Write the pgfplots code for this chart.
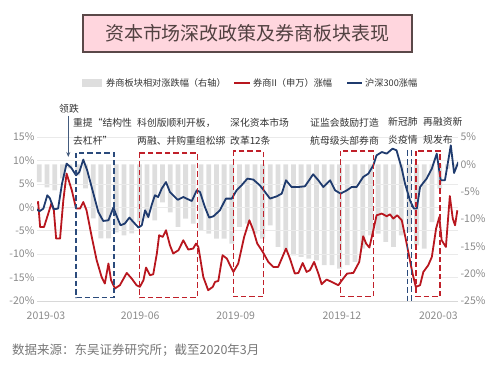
\documentclass[border=0pt]{standalone}
\usepackage{pgfplots}
\pgfplotsset{compat=1.18}
\usepackage{fontspec}
\setmainfont{Noto Sans CJK SC}
\usetikzlibrary{arrows.meta}
\definecolor{myred}{HTML}{B8161E}
\definecolor{myblue}{HTML}{1F3B6E}
\definecolor{bargray}{HTML}{DEDEDE}
\definecolor{tickgray}{HTML}{8A8A8A}
\definecolor{gridgray}{HTML}{EAEAEA}
\definecolor{axisgray}{HTML}{D8D8D8}
\definecolor{boxred}{HTML}{C0202A}
\definecolor{boxblue}{HTML}{2B4B7C}
\definecolor{titlepink}{HTML}{FFD6DE}
\definecolor{titleframe}{HTML}{5A4848}
\definecolor{txt}{HTML}{333333}
\definecolor{srcgray}{HTML}{777777}
\begin{document}
\begin{tikzpicture}[x=1pt,y=1pt]
\path (0,0) rectangle (499,365);
% ---- bars, right axis
\begin{axis}[at={(37pt,64pt)}, anchor=south west, width=421pt, height=164pt, scale only axis,
  xmin=-0.275, xmax=12.6, ymin=-25, ymax=5,
  hide x axis, axis y line*=right, y axis line style={draw=none},
  ytick={-25,-20,-15,-10,-5,0,5}, yticklabels={-25\%,-20\%,-15\%,-10\%,-5\%,0\%,5\%},
  major tick length=0pt,
  yticklabel style={font=\fontsize{10.5}{12}\selectfont, text=tickgray, xshift=-1pt}]
\addplot[ybar, bar width=4.8pt, fill=bargray, draw=none] coordinates {
(-0.205,-3.24) (0.031,-4.20) (0.266,-4.75) (0.502,-2.56) (0.737,-0.73) (0.973,-2.01)
(1.208,-4.39) (1.444,-9.87) (1.679,-13.53) (1.915,-13.53) (2.150,-12.43) (2.386,-12.98)
(2.621,-12.61) (2.857,-10.60) (3.092,-9.87) (3.328,-10.24) (3.563,-6.95) (3.799,-8.78)
(4.034,-11.46) (4.270,-9.93) (4.505,-10.84) (4.741,-12.07) (4.976,-12.67) (5.212,-13.58)
(5.447,-13.58) (5.683,-14.50) (5.918,-11.46) (6.154,-10.84) (6.389,-12.67) (6.625,-13.58)
(6.860,-11.15) (7.096,-15.11) (7.331,-15.72) (7.567,-16.64) (7.802,-16.95) (8.038,-17.24)
(8.273,-17.55) (8.509,-18.46) (8.744,-18.46) (8.980,-19.07) (9.215,-18.46) (9.451,-17.86)
(9.686,-15.41) (9.922,-12.98) (10.157,-12.67) (10.393,-14.20) (10.628,-15.11) (10.864,-12.98)
(11.099,-12.38) (11.335,-14.81) (11.570,-15.41) (11.806,-10.55) (12.041,-4.44) (12.277,-0.79)
(12.512,-0.40)};
\end{axis}
% ---- lines, left axis
\begin{axis}[at={(37pt,64pt)}, anchor=south west, width=421pt, height=164pt, scale only axis,
  xmin=-0.275, xmax=12.6, ymin=-20, ymax=15,
  axis x line*=bottom, axis y line*=left, y axis line style={draw=none},
  x axis line style={draw=axisgray, line width=0.7pt},
  xtick={0,2.88,5.8,9.05,12}, xticklabels={2019-03,2019-06,2019-09,2019-12,2020-03},
  ytick={-20,-15,-10,-5,0,5,10,15}, yticklabels={-20\%,-15\%,-10\%,-5\%,0\%,5\%,10\%,15\%},
  ymajorgrids, grid style={draw=gridgray, line width=0.5pt},
  major tick length=0pt,
  yticklabel style={font=\fontsize{10.5}{12}\selectfont, text=tickgray, xshift=1pt},
  xticklabel style={font=\fontsize{10.5}{12}\selectfont, text=tickgray, yshift=-7pt}]
\addplot[myred, line width=1.8pt, line join=round] coordinates {
(-0.31,0.79) (-0.24,1.13) (-0.18,-4.20) (-0.06,-4.20) (0.07,-1.34) (0.17,0.92) (0.24,-0.64)
(0.31,-6.67) (0.43,-6.67) (0.53,1.49) (0.63,7.19) (0.79,3.62) (0.92,-0.28) (1.04,-0.28)
(1.14,1.13) (1.24,-0.64) (1.40,-6.33) (1.55,-11.30) (1.70,-14.86) (1.80,-16.27) (1.91,-12.00)
(1.99,-15.57) (2.11,-17.33) (2.26,-16.63) (2.47,-14.01) (2.62,-15.20) (2.77,-16.63) (2.87,-16.99)
(2.98,-15.57) (3.06,-12.86) (3.18,-14.50) (3.28,-14.29) (3.39,-9.87) (3.46,-5.97) (3.57,-6.33)
(3.67,-4.90) (3.79,-8.10) (3.89,-9.87) (4.05,-9.17) (4.20,-7.04) (4.35,-9.02) (4.50,-8.81)
(4.59,-7.74) (4.66,-8.46) (4.81,-14.86) (4.96,-17.70) (5.10,-16.99) (5.17,-15.93) (5.27,-15.71)
(5.40,-10.23) (5.53,-10.94) (5.73,-13.80) (5.88,-12.00) (6.06,-6.33) (6.22,-2.77) (6.34,-4.90)
(6.46,-7.74) (6.63,-9.53) (6.80,-11.66) (6.95,-12.73) (7.10,-12.73) (7.21,-10.94) (7.34,-8.81)
(7.46,-10.94) (7.61,-14.14) (7.72,-14.01) (7.85,-11.88) (7.97,-13.80) (8.07,-13.43) (8.20,-11.66)
(8.33,-14.14) (8.43,-16.42) (8.58,-15.42) (8.74,-15.93) (8.94,-16.63) (9.09,-15.20) (9.21,-14.14)
(9.40,-14.01) (9.58,-11.66) (9.70,-6.18) (9.79,-7.74) (9.89,-8.59) (10.01,-4.90) (10.11,-1.71)
(10.27,-1.34) (10.42,-1.92) (10.52,-1.49) (10.62,-2.41) (10.74,-1.71) (10.88,-2.77) (11.01,-7.04)
(11.11,-10.60) (11.21,-14.14) (11.31,-16.99) (11.44,-16.63) (11.54,-13.80) (11.69,-12.37)
(11.80,-10.60) (11.93,-4.54) (12.03,-2.07) (12.10,-7.04) (12.23,-8.46) (12.35,2.40) (12.44,-2.41)
(12.51,-3.84) (12.58,-0.64)};
\addplot[myblue, line width=1.8pt, line join=round] coordinates {
(-0.31,-0.28) (-0.20,-0.85) (-0.08,-0.28) (0.04,2.56) (0.12,1.92) (0.24,-0.43) (0.37,-0.28)
(0.49,5.05) (0.63,9.32) (0.77,8.46) (0.92,6.82) (1.02,7.53) (1.14,10.17) (1.26,7.89) (1.45,2.92)
(1.60,-1.00) (1.75,-2.92) (1.91,-2.77) (2.06,-0.06) (2.18,-2.20) (2.28,-3.84) (2.41,-3.48)
(2.55,-2.20) (2.67,-3.13) (2.83,-4.33) (2.93,-3.84) (3.03,-0.64) (3.13,-2.07) (3.23,0.43)
(3.33,2.56) (3.43,2.20) (3.54,3.99) (3.67,5.39) (3.79,3.26) (4.03,1.60) (4.20,2.20) (4.30,1.85)
(4.46,1.34) (4.61,3.62) (4.71,3.26) (4.86,0.06) (4.99,-2.20) (5.12,-1.92) (5.32,-0.64) (5.50,1.85)
(5.68,1.85) (5.83,3.62) (5.98,4.69) (6.16,6.12) (6.34,5.91) (6.54,4.69) (6.70,3.26) (6.85,1.85)
(7.06,2.35) (7.21,2.92) (7.34,5.76) (7.51,4.33) (7.72,4.33) (7.92,4.48) (8.17,7.04) (8.33,5.76)
(8.48,4.33) (8.69,5.76) (8.84,3.62) (9.01,2.92) (9.20,3.62) (9.35,4.33) (9.50,4.33) (9.70,6.46)
(9.86,7.19) (10.01,8.96) (10.11,11.09) (10.27,11.79) (10.42,11.45) (10.60,12.52) (10.72,12.15)
(10.88,8.25) (10.98,5.05) (11.13,1.49) (11.25,-0.28) (11.34,-0.28) (11.44,4.33) (11.64,6.12)
(11.80,8.25) (11.95,11.45) (12.07,5.76) (12.20,5.76) (12.38,13.22) (12.48,7.31) (12.61,9.66)};
\end{axis}
% ---- dashed boxes
\begin{scope}[line width=1.4pt, dash pattern=on 5.5pt off 3pt]
\draw[boxblue] (76,212) rectangle (114,67.5);
\draw[boxred] (139.3,212) rectangle (197.3,67.5);
\draw[boxred] (233.3,214) rectangle (263.3,68.5);
\draw[boxred] (340.7,214) rectangle (373.3,68.5);
\draw[boxblue] (407.3,214) rectangle (411.7,65);
\draw[boxred] (416,214) rectangle (440,68.5);
\end{scope}
% ---- annotations
\begin{scope}[every node/.style={font=\fontsize{9.8}{11}\selectfont, text=txt, anchor=west, inner sep=0pt}]
\node at (59,256) {领跌};
\node at (73,242) {重提“结构性};
\node at (73,224) {去杠杆”};
\node at (137,242) {科创版顺利开板，};
\node at (137,224) {两融、并购重组松绑};
\node at (230,242) {深化资本市场};
\node at (230,224) {改革12条};
\node at (310,242) {证监会鼓励打造};
\node at (310,224) {航母级头部券商};
\node at (388,243) {新冠肺};
\node at (388,225) {炎疫情};
\node at (423,243) {再融资新};
\node at (423,225) {规发布};
\end{scope}
\draw[-{Stealth[length=5pt,width=4pt]}, color=boxblue!70!gray, line width=0.8pt] (68.3,249) -- (68.3,208);
% ---- title
\draw[fill=titlepink, draw=titleframe, line width=1.3pt] (83,350) rectangle (412,313);
\node[font=\fontsize{19}{22}\selectfont, text=titleframe!90!black] at (247.5,331.5) {资本市场深改政策及券商板块表现};
% ---- legend
\begin{scope}[every node/.style={font=\fontsize{9.2}{11}\selectfont, text=txt, anchor=west, inner sep=0pt}]
\fill[bargray] (82,278) rectangle (102,286);
\node at (106,282) {券商板块相对涨跌幅（右轴）};
\draw[myred, line width=2pt] (234,282) -- (250,282);
\node at (253,282) {券商II（申万）涨幅};
\draw[myblue, line width=2pt] (347,282) -- (362,282);
\node at (365,282) {沪深300涨幅};
\end{scope}
% ---- source
\node[font=\fontsize{12.5}{14}\selectfont, text=srcgray, anchor=west, inner sep=0pt] at (12,15) {数据来源：东吴证券研究所；截至2020年3月};
\end{tikzpicture}
\end{document}
